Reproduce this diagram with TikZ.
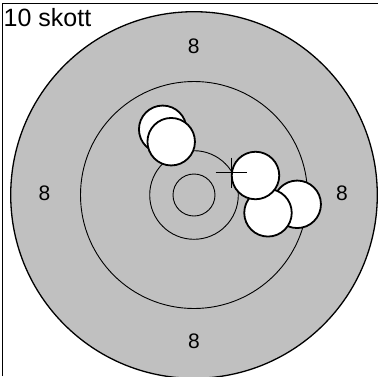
\documentclass[tikz,border=0pt]{standalone}
\usepackage{fontspec}
\setmainfont{Liberation Sans}
\begin{document}
\begin{tikzpicture}[x=1pt,y=-1pt,
  ring/.style={draw=black,line width=0.9pt},
  shot/.style={circle,draw=black,fill=white,line width=1.8pt,minimum size=47.5pt,inner sep=0pt},
  lbl/.style={font=\fontsize{21}{21}\selectfont,inner sep=0pt},
  cross/.style={draw=black,line width=1.4pt}]
\useasboundingbox (0,0) rectangle (378,376);
\begin{scope}
\clip (0,0) rectangle (378,376);
\coordinate (c) at (194,195);
\fill[white] (0,0) rectangle (378,376);
\draw[line width=1.4pt] (2.5,376) -- (2.5,3.7) -- (380,3.7);
\draw[fill={rgb,255:red,192;green,192;blue,192},line width=1.3pt] (c) circle[radius=183.3];
\draw[ring] (c) circle[radius=113.5];
\draw[ring] (c) circle[radius=44.3];
\draw[ring] (c) circle[radius=21];
\node[lbl] (t8) at (193.8,46.5) {8};
\node[lbl] (l8) at (44.5,193.5) {8};
\node[lbl] (r8) at (342,193.5) {8};
\node[lbl] (b8) at (194,341.5) {8};
\node[anchor=base west,font=\fontsize{25}{25}\selectfont,inner sep=0pt] (title) at (3.5,26.7) {10 skott};
\node[shot] (sA) at (162.7,129.3) {};
\node[shot] (sB) at (171.2,141.7) {};
\node[shot] (sD) at (297.2,204.3) {};
\node[shot] (sE) at (268,212.8) {};
\node[shot] (sC) at (255.5,175.5) {};
\coordinate (x0) at (231.5,172.7);
\draw[cross] ([xshift=-15.8pt]x0) -- ([xshift=15.2pt]x0);
\draw[cross] ([yshift=15pt]x0) -- ([yshift=-15.6pt]x0);
\end{scope}
\end{tikzpicture}
\end{document}
